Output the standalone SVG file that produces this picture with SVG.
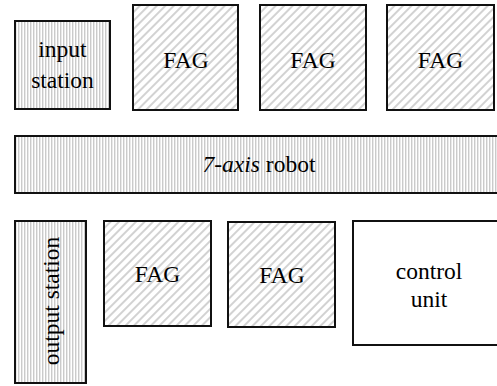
<svg xmlns="http://www.w3.org/2000/svg" width="497" height="386" viewBox="0 0 497 386">
<defs>
<pattern id="vstripe" patternUnits="userSpaceOnUse" width="3" height="10">
<rect width="3" height="10" fill="#fff"/>
<rect x="0" y="0" width="1.4" height="10" fill="#cacaca"/>
</pattern>
<pattern id="dstripe" patternUnits="userSpaceOnUse" width="6" height="6" patternTransform="rotate(45)">
<rect width="6" height="6" fill="#fff"/>
<rect x="0" y="0" width="2" height="6" fill="#d2d2d2"/>
</pattern>
</defs>
<style>
.box{stroke:#111;stroke-width:2}
.v{fill:url(#vstripe)}
.d{fill:url(#dstripe)}
.w{fill:#fff}
.t{font-family:'Liberation Serif','Times New Roman',serif;font-size:23.5px;fill:#000;text-anchor:middle}
</style>
<rect width="497" height="386" fill="#fff"/>
<g id="input-station"><rect class="box v" x="15" y="21" width="95" height="88"/><text class="t" x="62.5" y="57">input</text><text class="t" x="62.5" y="88">station</text></g>
<g id="fag1"><rect class="box d" x="133" y="5" width="105" height="105"/><text class="t" x="186" y="68">FAG</text></g>
<g id="fag2"><rect class="box d" x="260" y="5" width="106" height="105"/><text class="t" x="313" y="68">FAG</text></g>
<g id="fag3"><rect class="box d" x="387" y="5" width="107" height="105"/><text class="t" x="440.5" y="68">FAG</text></g>
<g id="robot"><rect class="box v" x="15" y="136" width="490" height="57"/><text class="t" x="259" y="172"><tspan font-style="italic">7-axis</tspan> robot</text></g>
<g id="output-station"><rect class="box v" x="15" y="221" width="71" height="162"/><text class="t" transform="translate(59 301) rotate(-90)">output station</text></g>
<g id="fag4"><rect class="box d" x="104" y="221" width="107" height="105"/><text class="t" x="157.5" y="282">FAG</text></g>
<g id="fag5"><rect class="box d" x="228" y="222" width="107" height="105"/><text class="t" x="282" y="283">FAG</text></g>
<g id="control-unit"><rect class="box w" x="353" y="221" width="150" height="124"/><text class="t" x="429" y="279">control</text><text class="t" x="429" y="307">unit</text></g>
<g id="connectors"></g>
</svg>
